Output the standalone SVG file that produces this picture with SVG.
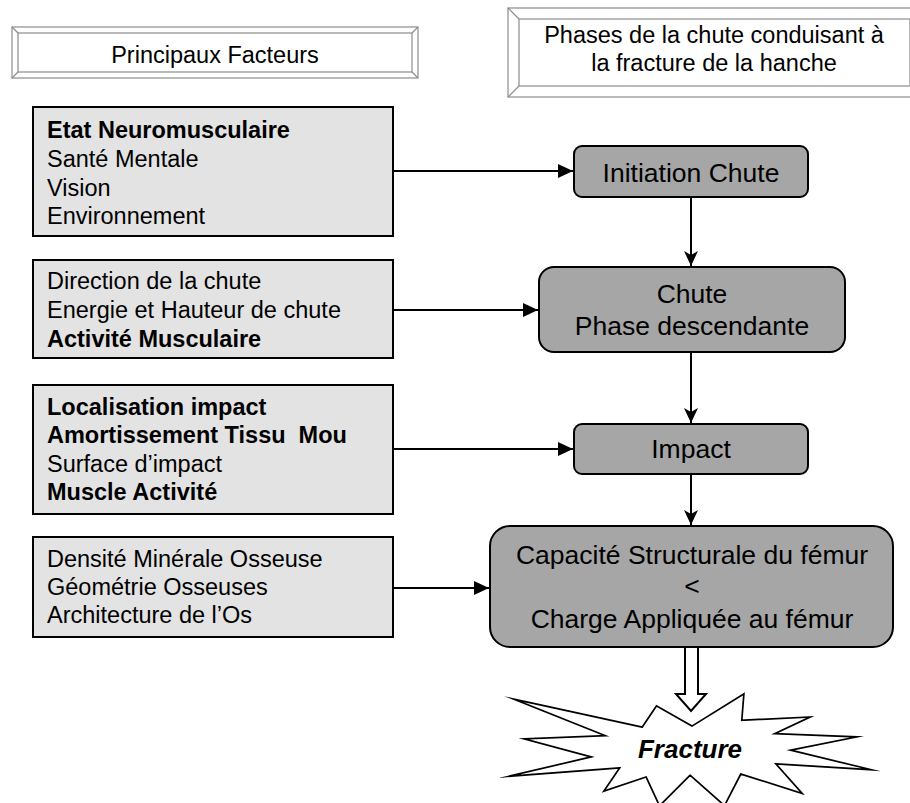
<svg xmlns="http://www.w3.org/2000/svg" width="910" height="803" viewBox="0 0 910 803">
<style>
  text { font-family: "Liberation Sans", Arial, sans-serif; fill: #000; }
  .hdr { font-size: 23.5px; text-anchor: middle; }
  .fac { font-size: 23.5px; }
  .b { font-weight: bold; }
  .ph { font-size: 26.5px; text-anchor: middle; }
  .facbox { fill: #e3e3e3; stroke: #000; stroke-width: 2; }
  .phbox { fill: #a6a6a6; stroke: #000; stroke-width: 2; }
  .bev { fill: #fff; stroke: #8c8c8c; stroke-width: 1.2; }
  .bevl { stroke: #8c8c8c; stroke-width: 1.2; fill: none; }
  .conn { stroke: #000; stroke-width: 2; fill: none; }
</style>
<defs>
  <marker id="tri" markerUnits="userSpaceOnUse" markerWidth="16" markerHeight="14" refX="15" refY="7" orient="auto">
    <path d="M0,0 L15,7 L0,14 z" fill="#000"/>
  </marker>
  <marker id="stealth" markerUnits="userSpaceOnUse" markerWidth="16" markerHeight="14" refX="15" refY="7" orient="auto">
    <path d="M0,0 L15,7 L0,14 L4,7 z" fill="#000"/>
  </marker>
</defs>

<g id="header-facteurs">
  <rect class="bev" x="12" y="27" width="406" height="51"/>
  <rect class="bev" x="18" y="33" width="394" height="39"/>
  <path class="bevl" d="M12,27 L18,33 M418,27 L412,33 M12,78 L18,72 M418,78 L412,72"/>
  <text class="hdr" x="215" y="63">Principaux Facteurs</text>
</g>

<g id="header-phases">
  <rect class="bev" x="508" y="8" width="414" height="89"/>
  <rect class="bev" x="519" y="19" width="391" height="67"/>
  <path class="bevl" d="M508,8 L519,19 M922,8 L910,19 M508,97 L519,86 M922,97 L910,86"/>
  <text class="hdr" x="714" y="43">Phases de la chute conduisant à</text>
  <text class="hdr" x="714" y="71">la fracture de la hanche</text>
</g>

<g id="facteur-1">
  <rect class="facbox" x="33" y="107" width="360" height="129"/>
  <text class="fac b" x="47" y="138">Etat Neuromusculaire</text>
  <text class="fac" x="47" y="167">Santé Mentale</text>
  <text class="fac" x="47" y="196">Vision</text>
  <text class="fac" x="47" y="224">Environnement</text>
</g>

<g id="facteur-2">
  <rect class="facbox" x="33" y="260" width="360" height="98"/>
  <text class="fac" x="47" y="289">Direction de la chute</text>
  <text class="fac" x="47" y="318">Energie et Hauteur de chute</text>
  <text class="fac b" x="47" y="347">Activité Musculaire</text>
</g>

<g id="facteur-3">
  <rect class="facbox" x="33" y="385" width="360" height="129"/>
  <text class="fac b" x="47" y="415">Localisation impact</text>
  <text class="fac b" x="47" y="443" xml:space="preserve">Amortissement Tissu  Mou</text>
  <text class="fac" x="47" y="472">Surface d’impact</text>
  <text class="fac b" x="47" y="500">Muscle Activité</text>
</g>

<g id="facteur-4">
  <rect class="facbox" x="33" y="537" width="360" height="100"/>
  <text class="fac" x="47" y="567">Densité Minérale Osseuse</text>
  <text class="fac" x="47" y="595">Géométrie Osseuses</text>
  <text class="fac" x="47" y="623">Architecture de l’Os</text>
</g>

<g id="phase-initiation">
  <rect class="phbox" x="574" y="146" width="234" height="51" rx="8"/>
  <text class="ph" x="691" y="182">Initiation Chute</text>
</g>

<g id="phase-chute">
  <rect class="phbox" x="539" y="267" width="306" height="85" rx="15"/>
  <text class="ph" x="692" y="303">Chute</text>
  <text class="ph" x="692" y="335">Phase descendante</text>
</g>

<g id="phase-impact">
  <rect class="phbox" x="574" y="424" width="234" height="50" rx="8"/>
  <text class="ph" x="691" y="458">Impact</text>
</g>

<g id="phase-capacite">
  <rect class="phbox" x="490" y="526" width="403" height="121" rx="20"/>
  <text class="ph" x="692" y="564">Capacité Structurale du fémur</text>
  <text class="ph" x="692" y="595">&lt;</text>
  <text class="ph" x="692" y="628">Charge Appliquée au fémur</text>
</g>

<g id="connectors">
  <line class="conn" x1="393" y1="171" x2="573" y2="171" marker-end="url(#tri)"/>
  <line class="conn" x1="393" y1="310" x2="538" y2="310" marker-end="url(#tri)"/>
  <line class="conn" x1="393" y1="449" x2="573" y2="449" marker-end="url(#tri)"/>
  <line class="conn" x1="393" y1="588" x2="489" y2="588" marker-end="url(#tri)"/>
  <line class="conn" x1="691" y1="197" x2="691" y2="266" marker-end="url(#stealth)"/>
  <line class="conn" x1="691" y1="352" x2="691" y2="423" marker-end="url(#stealth)"/>
  <line class="conn" x1="691" y1="474" x2="691" y2="525" marker-end="url(#stealth)"/>
  <path d="M685,648 L685,694 L676,694 L691,711 L706,694 L698,694 L698,648" fill="#fff" stroke="#000" stroke-width="2" stroke-linejoin="miter"/>
</g>

<g id="fracture">
  <polygon points="533,705 643,729 657,708 692,728 742,697 740,722 802,719 768,735 843,738 783,750 853,767 772,762 797,790 740,772 724,803 690,773 660,803 647,775 608,788 623,766 530,773 598,757 535,740 613,737" fill="#fff" stroke="#000" stroke-width="5" stroke-linejoin="miter" stroke-miterlimit="20"/>
  <polygon points="533,705 643,729 657,708 692,728 742,697 740,722 802,719 768,735 843,738 783,750 853,767 772,762 797,790 740,772 724,803 690,773 660,803 647,775 608,788 623,766 530,773 598,757 535,740 613,737" fill="#fff" stroke="#fff" stroke-width="1.6" stroke-linejoin="miter" stroke-miterlimit="20"/>
  <text x="690" y="758" font-size="26px" font-weight="bold" font-style="italic" text-anchor="middle">Fracture</text>
</g>
</svg>
